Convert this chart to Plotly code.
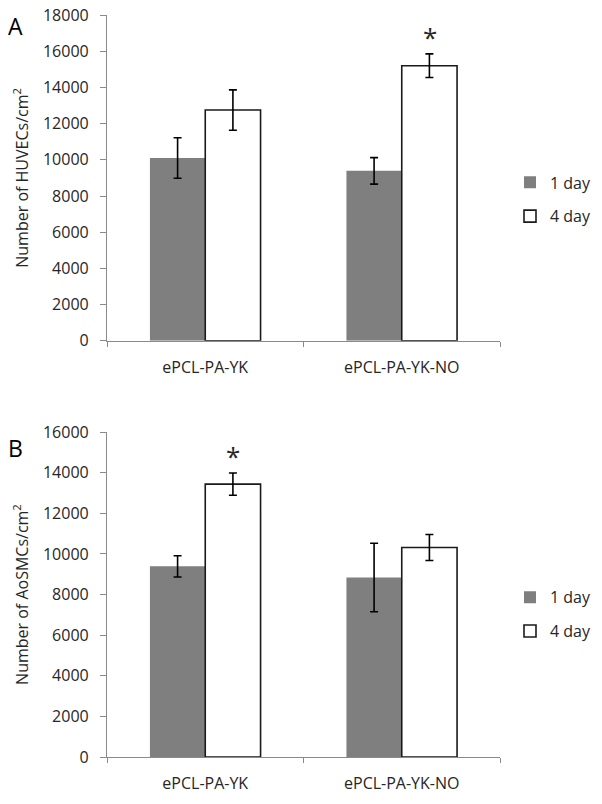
import plotly.graph_objects as go
from plotly.subplots import make_subplots

categories = ["ePCL-PA-YK", "ePCL-PA-YK-NO"]
series_names = ["1 day", "4 day"]

huvec_1day = [10100, 9390]
huvec_1day_err = [1120, 730]
huvec_4day = [12750, 15200]
huvec_4day_err = [1115, 650]

aosmc_1day = [9390, 8840]
aosmc_1day_err = [525, 1690]
aosmc_4day = [13440, 10320]
aosmc_4day_err = [550, 640]

y_ticks_a = [0, 2000, 4000, 6000, 8000, 10000, 12000, 14000, 16000, 18000]
y_ticks_b = [0, 2000, 4000, 6000, 8000, 10000, 12000, 14000, 16000]

FONT = "Open Sans, Noto Sans, sans-serif"
TXT = "#262626"
AX = "#8a8a8a"
GRAY = "#7f7f7f"

OFF = 8  # page body margin
W, H = 602 - OFF, 804 - OFF
L_PX, R_PX = 107, 501
T_PX, B_PX = 15, 757.3
ML = L_PX - OFF
MR = W - (R_PX - OFF)
MT = T_PX - OFF
MB = H - (B_PX - OFF)
PH = H - MT - MB
PW = W - ML - MR


def py(px):
    return 1 - (px - T_PX) / PH


def pxx(px):
    return (px - L_PX) / PW


fig = make_subplots(rows=2, cols=1)
fig.update_layout(
    yaxis=dict(domain=[py(341), 1.0]),
    yaxis2=dict(domain=[0.0, py(432.3)]),
)


def add_panel(row, v1, e1, v4, e4, legend_name):
    fig.add_trace(go.Bar(
        x=categories, y=v1, name=series_names[0],
        marker=dict(color=GRAY, line=dict(width=0)),
        error_y=dict(type="data", array=e1, color="black", thickness=1.6, width=4),
        legend=legend_name, legendgroup=legend_name + "a",
    ), row=row, col=1)
    fig.add_trace(go.Bar(
        x=categories, y=v4, name=series_names[1],
        marker=dict(color="white", line=dict(width=1.6, color="#1a1a1a")),
        error_y=dict(type="data", array=e4, color="black", thickness=1.6, width=4),
        legend=legend_name, legendgroup=legend_name + "b",
    ), row=row, col=1)


add_panel(1, huvec_1day, huvec_1day_err, huvec_4day, huvec_4day_err, "legend")
add_panel(2, aosmc_1day, aosmc_1day_err, aosmc_4day, aosmc_4day_err, "legend2")

xcommon = dict(
    type="category", showline=True, linecolor=AX, linewidth=1.2,
    ticks="outside", tickson="boundaries", ticklen=5, tickcolor=AX,
    showgrid=False, zeroline=False,
    tickfont=dict(family=FONT, size=16, color=TXT),
    ticklabelstandoff=12,
)
fig.update_xaxes(**xcommon)

ycommon = dict(
    showline=True, linecolor=AX, linewidth=1.2,
    ticks="outside", ticklen=6, tickcolor=AX,
    showgrid=False, zeroline=False,
    tickfont=dict(family=FONT, size=16, color=TXT),
    ticklabelstandoff=8,
    ticklabeloverflow="allow",
    automargin=False,
)
fig.update_yaxes(**ycommon)
fig.update_yaxes(range=[0, 18000], tickvals=y_ticks_a, ticktext=[str(v) for v in y_ticks_a],
                 title=dict(text="Number of HUVECs/cm<sup>2</sup>", font=dict(family=FONT, size=16, color=TXT), standoff=10),
                 row=1, col=1)
fig.update_yaxes(range=[0, 16000], tickvals=y_ticks_b, ticktext=[str(v) for v in y_ticks_b],
                 title=dict(text="Number of AoSMCs/cm<sup>2</sup>", font=dict(family=FONT, size=16, color=TXT), standoff=10),
                 row=2, col=1)

legend_common = dict(
    x=pxx(510), xanchor="left", yanchor="middle",
    font=dict(family=FONT, size=16, color=TXT),
    bgcolor="rgba(0,0,0,0)", tracegroupgap=10, traceorder="grouped",
)
fig.update_layout(
    legend=dict(y=py(199.5), **legend_common),
    legend2=dict(y=py(614.5), **legend_common),
)

fig.update_layout(
    width=W, height=H,
    margin=dict(l=ML, r=MR, t=MT, b=MB, pad=0),
    paper_bgcolor="white", plot_bgcolor="white",
    barmode="group", bargap=0.437, bargroupgap=0,
    font=dict(family=FONT, color=TXT),
    showlegend=True,
)

# significance stars
fig.add_annotation(x=categories[1], y=huvec_4day[1] + huvec_4day_err[1], xref="x", yref="y",
                   text="*", showarrow=False, xshift=28, yanchor="bottom", yshift=-3,
                   font=dict(family=FONT, size=26, color=TXT))
fig.add_annotation(x=categories[0], y=aosmc_4day[0] + aosmc_4day_err[0], xref="x2", yref="y2",
                   text="*", showarrow=False, xshift=28, yanchor="bottom", yshift=-3,
                   font=dict(family=FONT, size=26, color=TXT))

# panel labels
fig.add_annotation(x=pxx(15.5), y=py(OFF), xref="paper", yref="paper", text="A", showarrow=False,
                   xanchor="center", yanchor="top",
                   font=dict(family=FONT, size=23, color="black"))
fig.add_annotation(x=pxx(15.5), y=py(448), xref="paper", yref="paper", text="B", showarrow=False,
                   xanchor="center", yanchor="middle",
                   font=dict(family=FONT, size=23, color="black"))

fig.write_html("out.html")
